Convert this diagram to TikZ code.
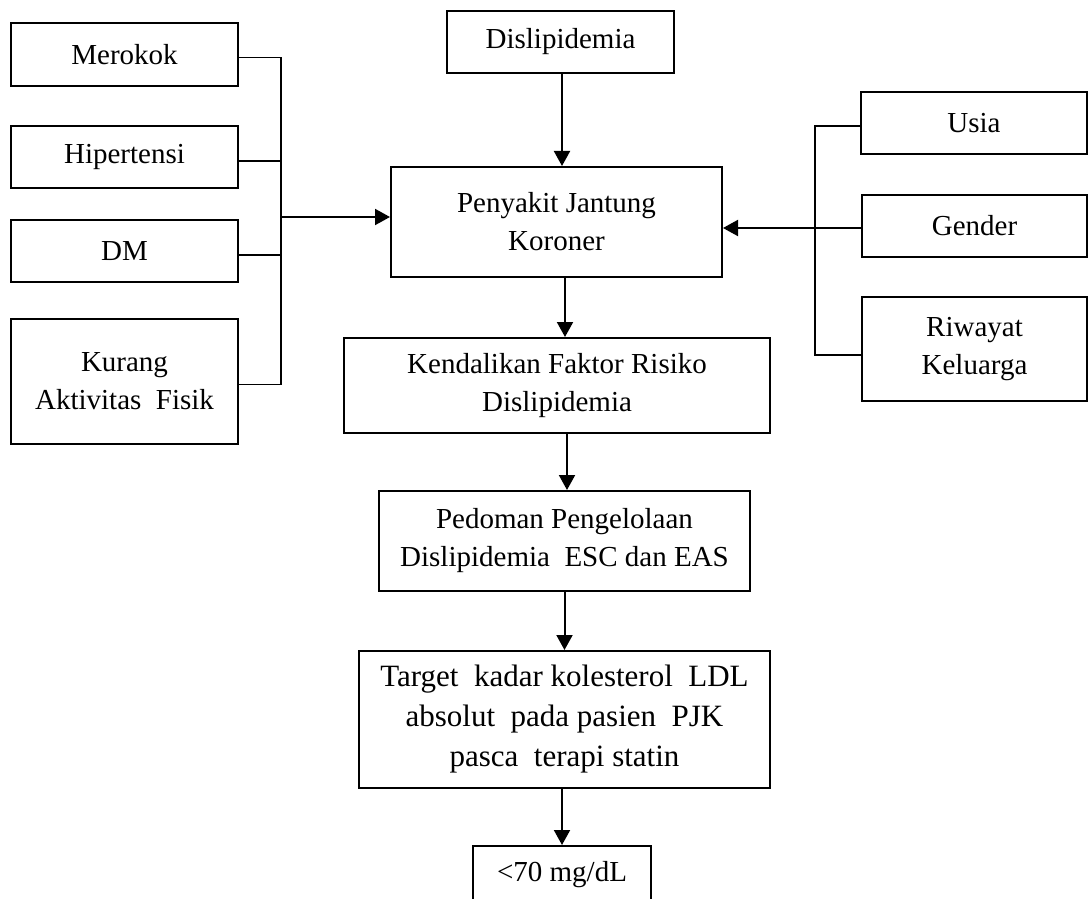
\documentclass[tikz,border=0pt]{standalone}
\usepackage{fontspec}
\setmainfont{Liberation Serif}
\usetikzlibrary{arrows.meta}
\newcommand{\fsA}{\fontsize{14.5pt}{19pt}\selectfont}
\newcommand{\fsB}{\fontsize{15.5pt}{20pt}\selectfont}
\tikzset{
  box/.style={draw, line width=1pt, inner sep=2pt, align=center, font=\fsA},
  bus/.style={line width=0.7pt},
  arr/.style={line width=1pt, -{Triangle[length=7.5pt,width=8pt]}}
}
\begin{document}
\begin{tikzpicture}[x=0.5pt,y=-0.5pt]
\useasboundingbox (0,0) rectangle (1088,899);
\clip (0,0) rectangle (1088,899);
% left factors
\node[box, minimum width=113.5pt, minimum height=31.5pt] (mer) at (124.5,54.5) {Merokok};
\node[box, minimum width=113.5pt, minimum height=31pt] (hip) at (124.5,157) {Hipertensi};
\node[box, minimum width=113.5pt, minimum height=31pt] (dm) at (124.5,251) {DM};
\node[box, minimum width=113.5pt, minimum height=62.5pt] (kur) at (124.5,381.5) {Kurang\\Aktivitas\ \ Fisik};
% centre column
\node[box, minimum width=113.5pt, minimum height=31pt] (dis) at (560.5,42) {Dislipidemia};
\node[box, minimum width=165.5pt, minimum height=55pt] (pjk) at (556.5,222) {Penyakit Jantung\\Koroner};
\node[box, minimum width=213pt, minimum height=47.5pt] (ken) at (557,385.5) {Kendalikan Faktor Risiko\\Dislipidemia};
\node[box, minimum width=185.5pt, minimum height=50pt] (ped) at (564.5,541) {Pedoman Pengelolaan\\Dislipidemia\ \ ESC dan EAS};
\node[box, font=\fsB, minimum width=205.5pt, minimum height=68.5pt] (tar) at (564.5,719.5) {Target\ \ kadar kolesterol\ \ LDL\\absolut\ \ pada pasien\ \ PJK\\pasca\ \ terapi statin};
\node[box, inner sep=0pt, minimum width=89pt, text height=17.5pt, text depth=22pt, anchor=north] (lim) at (562,845) {{<}70 mg/dL};
% right factors
\node[box, minimum width=113pt, minimum height=31pt] (usi) at (974,123) {Usia};
\node[box, minimum width=112.5pt, minimum height=31pt] (gen) at (974.5,226) {Gender};
\node[box, minimum width=112.5pt, minimum height=52pt] (riw) at (974.5,349) {Riwayat\\Keluarga};
% left bus
\coordinate (lb) at (281,217);
\draw[bus] ([yshift=-1.5pt]mer.east) -| ([yshift=-1.5pt]kur.east -| lb) -- ([yshift=-1.5pt]kur.east);
\draw[bus] ([yshift=-2pt]hip.east) -- ([yshift=-2pt]hip.east -| lb);
\draw[bus] ([yshift=-2pt]dm.east) -- ([yshift=-2pt]dm.east -| lb);
\draw[arr] (lb) -- (lb -| pjk.west);
% right bus
\coordinate (rb) at (815,228);
\draw[bus] ([yshift=-1.5pt]usi.west) -| ([yshift=-3pt]riw.west -| rb) -- ([yshift=-3pt]riw.west);
\draw[bus] (rb) -- (rb -| gen.west);
\draw[arr] (rb) -- (rb -| pjk.east);
% vertical flow
\draw[arr] ([xshift=0.75pt]dis.south) -- ([xshift=0.75pt]dis.south |- pjk.north);
\draw[arr] ([xshift=4.25pt]pjk.south) -- ([xshift=4.25pt]pjk.south |- ken.north);
\draw[arr] ([xshift=1.25pt]ped.north |- ken.south) -- ([xshift=1.25pt]ped.north);
\draw[arr] (ped.south) -- (ped.south |- tar.north);
\draw[arr] (tar.south -| lim.north) -- (lim.north);
\end{tikzpicture}
\end{document}
